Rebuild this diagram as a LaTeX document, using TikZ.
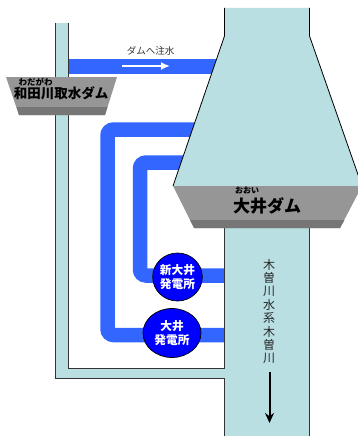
\documentclass[tikz,border=0pt]{standalone}
\usepackage{xcolor}
\usepackage{fontspec}
\setmainfont{Noto Sans CJK JP}
\usetikzlibrary{arrows.meta,shapes.geometric}
\begin{document}
\begin{tikzpicture}[x=1pt,y=-1pt,
  river/.style={fill=riverblue,draw=none},
  bank/.style={draw=black!80,line width=1pt},
  pipe/.style={draw=pipeblue,line width=14.5pt,rounded corners=6pt},
  plant/.style={ellipse,draw=black,fill=blue,line width=0.7pt,inner sep=0pt,
    align=center,text=white,font=\fontsize{11.7}{13.8}\selectfont\bfseries},
  damname/.style={inner sep=0pt,font=\bfseries},
  kana/.style={inner sep=0pt,font=\fontsize{8}{9}\selectfont\bfseries}]
\definecolor{riverblue}{HTML}{B9DFE2}
\definecolor{pipeblue}{HTML}{3366FF}
\definecolor{damgray}{HTML}{969696}
\definecolor{damdark}{HTML}{767676}
\useasboundingbox (0,0) rectangle (358,436);
\fill[white] (0,0) rectangle (358,436);
\clip (0,0) rectangle (358,436);
% pipes
\draw[pipeblue,line width=15pt] (68,66.5) -- (225,66.5);
\foreach \px/\ptop/\pbot in {107.5/129.5/335,140/162.5/275.5}
  {\draw[pipe] (230,\ptop) -- (\px,\ptop) -- (\px,\pbot) -- (230,\pbot);}
% river
\fill[river] (55,23) rectangle (68,378);
\fill[river] (55,368) rectangle (225,378);
\fill[river] (224.5,8) -- (224.5,36) -- (173,186) -- (362,186) -- (309.5,36) -- (309.5,8) -- cycle;
\fill[river] (224.5,186) rectangle (309.5,436);
\draw[bank] (55,23) -- (55,378) -- (224.5,378) -- (224.5,436);
\draw[bank] (68,23) -- (68,368) -- (224.5,368) -- (224.5,228);
\draw[bank] (309.5,436) -- (309.5,228);
\draw[black,line width=0.8pt] (224.5,8) -- (224.5,36) -- (173,186);
\draw[black,line width=0.8pt] (309.5,8) -- (309.5,36) -- (362,186);
% dams
\fill[damgray] (6,77) -- (117,77) -- (105,115) -- (19,115) -- cycle;
\fill[damdark] (16.5,107) -- (107.5,107) -- (105,115) -- (19,115) -- cycle;
\fill[damgray] (173,186) -- (362,186) -- (340,228) -- (194,228) -- cycle;
\fill[damdark] (190,220) -- (344.5,220) -- (340,228) -- (194,228) -- cycle;
\node[kana,font=\fontsize{8.5}{9}\selectfont\bfseries] (wadagawa) at (35.5,82) {わだがわ};
\node[damname,font=\fontsize{13.5}{14}\selectfont\bfseries] (wadadam) at (61,93.5) {和田川取水ダム};
\node[kana] (ooi) at (247,190.5) {おおい};
\node[damname,font=\fontsize{17}{18}\selectfont\bfseries] (ooidam) at (267,205.5) {大井ダム};
% power plants
\node[plant,minimum width=49pt,minimum height=48pt] (shinooi) at (177.5,277) {新大井\\発電所};
\node[plant,minimum width=58pt,minimum height=49pt] (ooiplant) at (172,333) {大井\\発電所};
% labels
\node[inner sep=0pt,font=\fontsize{9.5}{10}\selectfont,text=black!80] (chusui) at (150.5,51) {ダムへ注水};
\coordinate (flowa) at (122,66);
\coordinate (flowb) at (170,66);
\draw[white,line width=2.2pt,-{Latex[length=9pt,width=8pt]}] (flowa) -- (flowb);
\node[inner sep=0pt,align=center,font=\fontsize{12}{13.4}\selectfont,text=black!85] (kiso) at (269,311.5) {木\\曽\\川\\水\\系\\木\\曽\\川};
\coordinate (downa) at (269.5,372);
\coordinate (downb) at (269.5,423);
\draw[black,line width=2pt,-{Stealth[length=10pt,width=9pt]}] (downa) -- (downb);
\end{tikzpicture}
\end{document}
